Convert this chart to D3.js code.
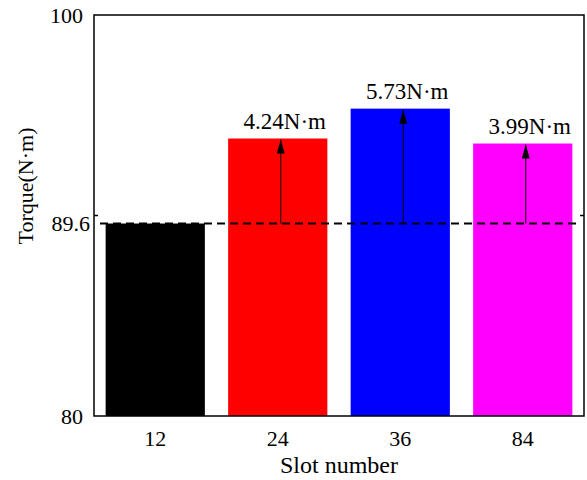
<!DOCTYPE html>
<html lang="en">
<head>
    <meta charset="UTF-8">
    <title>Torque vs Slot number</title>
    <script src="https://d3js.org/d3.v7.min.js"></script>
    <style>
        body { margin: 0; background: #fff; }
    </style>
</head>
<body>
    <div id="chart"></div>
    <script>
        // data
        const slots = ["12", "24", "36", "84"];
        const torque = [89.6, 93.84, 95.33, 93.59];
        const colors = ["#000000", "#ff0000", "#0000ff", "#ff00ff"];
        const baseline = 89.6;
        const yTickLabels = [80, 89.6, 100];
        const yTickMarks = [90];

        const W = 587, H = 480;
        const margin = {top: 15, right: 3, bottom: 64, left: 94};

        const svg = d3.select("#chart")
            .append("svg")
            .attr("width", W)
            .attr("height", H)
            .attr("font-family", "'Liberation Serif', 'Times New Roman', serif");

        const x = d3.scaleBand()
            .domain(slots)
            .range([margin.left, W - margin.right])
            .paddingInner(0.19)
            .paddingOuter(0.095);

        const y = d3.scaleLinear()
            .domain([80, 100])
            .range([H - margin.bottom, margin.top]);

        // bars
        svg.selectAll(".bar")
            .data(slots)
            .enter()
            .append("rect")
            .attr("class", "bar")
            .attr("x", d => x(d))
            .attr("y", (d, i) => y(torque[i]))
            .attr("width", x.bandwidth())
            .attr("height", (d, i) => y(80) - y(torque[i]))
            .attr("fill", (d, i) => colors[i]);

        // dashed reference line at the 12-slot value
        svg.append("line")
            .attr("x1", margin.left + 6)
            .attr("x2", W - margin.right - 4)
            .attr("y1", y(baseline))
            .attr("y2", y(baseline))
            .attr("stroke", "#000")
            .attr("stroke-width", 2)
            .attr("stroke-dasharray", "8,5");

        // arrowhead pointing along +x, rotated by the line direction
        svg.append("defs").append("marker")
            .attr("id", "arrow")
            .attr("viewBox", "0 0 14 8")
            .attr("refX", 14)
            .attr("refY", 4)
            .attr("markerWidth", 14)
            .attr("markerHeight", 8)
            .attr("markerUnits", "userSpaceOnUse")
            .attr("orient", "auto")
            .append("path")
            .attr("d", "M0,0 L14,4 L0,8 Z")
            .attr("fill", "#000");

        const gains = slots.map((s, i) => ({slot: s, v: torque[i], diff: torque[i] - baseline}))
            .filter(d => d.diff > 0);

        const arrowX = d => x(d.slot) + x.bandwidth() / 2 + 3;

        svg.selectAll(".arrow")
            .data(gains)
            .enter()
            .append("line")
            .attr("class", "arrow")
            .attr("x1", arrowX)
            .attr("x2", arrowX)
            .attr("y1", y(baseline))
            .attr("y2", d => y(d.v) + 1)
            .attr("stroke", "#000")
            .attr("stroke-width", 1)
            .attr("marker-end", "url(#arrow)");

        svg.selectAll(".gain-label")
            .data(gains)
            .enter()
            .append("text")
            .attr("class", "gain-label")
            .attr("x", d => arrowX(d) + 4)
            .attr("y", d => y(d.v) - 10)
            .attr("text-anchor", "middle")
            .attr("font-size", "23px")
            .text(d => d.diff.toFixed(2) + "N\u00b7m");

        // frame
        svg.append("rect")
            .attr("x", margin.left)
            .attr("y", margin.top)
            .attr("width", W - margin.left - margin.right)
            .attr("height", H - margin.top - margin.bottom)
            .attr("fill", "none")
            .attr("stroke", "#000")
            .attr("stroke-width", 1.5);

        // small inward tick marks on both sides
        yTickMarks.forEach(v => {
            svg.append("line")
                .attr("x1", margin.left).attr("x2", margin.left + 4)
                .attr("y1", y(v)).attr("y2", y(v))
                .attr("stroke", "#000").attr("stroke-width", 1.5);
            svg.append("line")
                .attr("x1", W - margin.right).attr("x2", W - margin.right - 4)
                .attr("y1", y(v)).attr("y2", y(v))
                .attr("stroke", "#000").attr("stroke-width", 1.5);
        });

        // y tick labels
        svg.selectAll(".ylab")
            .data(yTickLabels)
            .enter()
            .append("text")
            .attr("class", "ylab")
            .attr("x", d => d === baseline ? margin.left - 4 : margin.left - 11)
            .attr("y", d => y(d))
            .attr("dy", "0.35em")
            .attr("text-anchor", "end")
            .attr("font-size", "22px")
            .text(d => d);

        // x tick labels
        svg.selectAll(".xlab")
            .data(slots)
            .enter()
            .append("text")
            .attr("class", "xlab")
            .attr("x", d => x(d) + x.bandwidth() / 2)
            .attr("y", H - margin.bottom + 30)
            .attr("text-anchor", "middle")
            .attr("font-size", "22px")
            .text(d => d);

        // axis titles
        svg.append("text")
            .attr("x", (margin.left + W - margin.right) / 2)
            .attr("y", H - 7)
            .attr("text-anchor", "middle")
            .attr("font-size", "24px")
            .text("Slot number");

        svg.append("text")
            .attr("transform", "translate(33, 186) rotate(-90)")
            .attr("text-anchor", "middle")
            .attr("font-size", "22px")
            .text("Torque(N\u00b7m)");
    </script>
</body>
</html>
